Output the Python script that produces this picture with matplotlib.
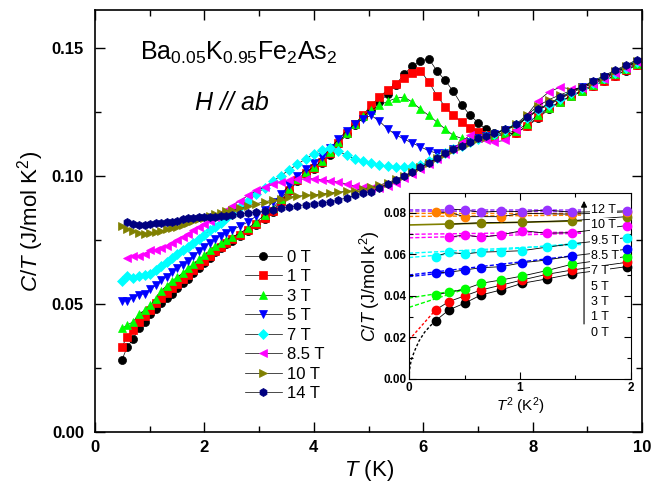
import numpy as np
import matplotlib
matplotlib.use('Agg')
import matplotlib.pyplot as plt
from matplotlib.ticker import MultipleLocator, FormatStrFormatter

plt.rcParams['font.family'] = ['Liberation Sans', 'DejaVu Sans']
plt.rcParams['mathtext.fontset'] = 'custom'
plt.rcParams['mathtext.rm'] = 'Liberation Sans'
plt.rcParams['mathtext.it'] = 'Liberation Sans:italic'
plt.rcParams['mathtext.bf'] = 'Liberation Sans:bold'
plt.rcParams['mathtext.default'] = 'regular'

nan = np.nan

# ---- main panel: C/T vs T for H // ab ----
temps = [0.49, 0.59, 0.70, 0.80, 0.91, 1.01, 1.11, 1.21, 1.31, 1.40,
         1.50, 1.60, 1.70, 1.80, 1.90, 2.00, 2.10, 2.20, 2.30, 2.40,
         2.50, 2.65, 2.80, 2.95, 3.10, 3.25, 3.40, 3.55, 3.70, 3.85,
         4.00, 4.15, 4.30, 4.45, 4.60, 4.75, 4.90, 5.05, 5.20, 5.35,
         5.50, 5.65, 5.80, 5.95, 6.10, 6.25, 6.40, 6.55, 6.70, 6.85,
         7.00, 7.15, 7.30, 7.50, 7.70, 7.90, 8.10, 8.30, 8.50, 8.70,
         8.90, 9.10, 9.30, 9.50, 9.70, 9.90]

ct_0T = [0.0281, 0.0333, 0.0365, 0.0405, 0.0429, 0.0461, 0.0482, 0.0506, 0.0524, 0.0541,
         0.0562, 0.0582, 0.0600, 0.0620, 0.0640, 0.0660, 0.0682, 0.0702, 0.0720, 0.0735,
         0.0748, 0.0765, 0.0785, 0.0808, 0.0833, 0.0862, 0.0900, 0.0942, 0.0980, 0.1008,
         0.1030, 0.1050, 0.1085, 0.1125, 0.1165, 0.1200, 0.1230, 0.1258, 0.1290, 0.1322,
         0.1358, 0.1400, 0.1430, 0.1450, 0.1460, 0.1412, 0.1375, 0.1332, 0.1280, 0.1240,
         0.1210, 0.1183, 0.1168, 0.1165, 0.1170, 0.1195, 0.1228, 0.1262, 0.1290, 0.1312,
         0.1332, 0.1352, 0.1372, 0.1392, 0.1412, 0.1435]

ct_1T = [0.0333, 0.0373, 0.0400, 0.0429, 0.0452, 0.0477, 0.0504, 0.0525, 0.0545, 0.0562,
         0.0580, 0.0598, 0.0615, 0.0633, 0.0652, 0.0670, 0.0690, 0.0708, 0.0725, 0.0740,
         0.0753, 0.0770, 0.0790, 0.0813, 0.0838, 0.0866, 0.0905, 0.0946, 0.0984, 0.1012,
         0.1033, 0.1054, 0.1090, 0.1130, 0.1170, 0.1205, 0.1240, 0.1278, 0.1310, 0.1338,
         0.1362, 0.1385, 0.1405, 0.1412, 0.1370, 0.1315, 0.1272, 0.1238, 0.1212, 0.1190,
         0.1172, 0.1160, 0.1158, 0.1162, 0.1170, 0.1198, 0.1233, 0.1265, 0.1290, 0.1312,
         0.1333, 0.1353, 0.1373, 0.1394, 0.1414, 0.1436]

ct_3T = [0.0405, 0.0418, 0.0432, 0.0461, 0.0477, 0.0496, 0.0522, 0.0553, 0.0572, 0.0590,
         0.0605, 0.0622, 0.0640, 0.0657, 0.0675, 0.0692, 0.0710, 0.0726, 0.0740, 0.0752,
         0.0762, 0.0778, 0.0798, 0.0822, 0.0848, 0.0875, 0.0912, 0.0952, 0.0988, 0.1015,
         0.1037, 0.1060, 0.1095, 0.1133, 0.1170, 0.1205, 0.1235, 0.1258, 0.1278, 0.1293,
         0.1305, 0.1310, 0.1290, 0.1262, 0.1238, 0.1212, 0.1185, 0.1160, 0.1148, 0.1145,
         0.1150, 0.1155, 0.1160, 0.1168, 0.1178, 0.1205, 0.1240, 0.1268, 0.1292, 0.1315,
         0.1335, 0.1358, 0.1380, 0.1400, 0.1420, 0.1440]

ct_5T = [0.0512, 0.0514, 0.0525, 0.0536, 0.0541, 0.0560, 0.0573, 0.0593, 0.0608, 0.0625,
         0.0640, 0.0655, 0.0670, 0.0688, 0.0706, 0.0725, 0.0740, 0.0755, 0.0768, 0.0780,
         0.0790, 0.0805, 0.0822, 0.0845, 0.0870, 0.0898, 0.0930, 0.0965, 0.1000, 0.1028,
         0.1050, 0.1075, 0.1110, 0.1145, 0.1178, 0.1205, 0.1225, 0.1238, 0.1215, 0.1185,
         0.1162, 0.1145, 0.1130, 0.1115, 0.1100, 0.1090, 0.1090, 0.1105, 0.1120, 0.1135,
         0.1148, 0.1158, 0.1166, 0.1180, 0.1198, 0.1228, 0.1260, 0.1282, 0.1305, 0.1328,
         0.1348, 0.1368, 0.1388, 0.1408, 0.1428, 0.1448]

ct_7T = [0.0590, 0.0611, 0.0602, 0.0611, 0.0614, 0.0618, 0.0635, 0.0651, 0.0666, 0.0681,
         0.0695, 0.0710, 0.0725, 0.0740, 0.0756, 0.0772, 0.0788, 0.0802, 0.0818, 0.0835,
         0.0852, 0.0878, 0.0903, 0.0930, 0.0956, 0.0980, 0.1003, 0.1025, 0.1047, 0.1068,
         0.1088, 0.1102, 0.1112, 0.1098, 0.1082, 0.1068, 0.1058, 0.1050, 0.1045, 0.1040,
         0.1037, 0.1038, 0.1040, 0.1045, 0.1058, 0.1072, 0.1090, 0.1105, 0.1120, 0.1134,
         0.1146, 0.1157, 0.1166, 0.1182, 0.1200, 0.1228, 0.1258, 0.1280, 0.1302, 0.1325,
         0.1345, 0.1365, 0.1385, 0.1405, 0.1425, 0.1445]

ct_85T = [nan, 0.0680, 0.0690, 0.0688, 0.0697, 0.0710, 0.0712, 0.0718, 0.0728, 0.0739,
          0.0750, 0.0762, 0.0775, 0.0788, 0.0800, 0.0812, 0.0826, 0.0841, 0.0856, 0.0870,
          0.0885, 0.0905, 0.0925, 0.0945, 0.0958, 0.0968, 0.0978, 0.0984, 0.0988, 0.0990,
          0.0990, 0.0987, 0.0982, 0.0977, 0.0970, 0.0962, 0.0957, 0.0955, 0.0956, 0.0962,
          0.0975, 0.0992, 0.1010, 0.1028, 0.1048, 0.1068, 0.1088, 0.1108, 0.1135, 0.1160,
          0.1150, 0.1140, 0.1135, 0.1140, 0.1180, 0.1240, 0.1295, 0.1330, 0.1348, 0.1342,
          0.1345, 0.1362, 0.1382, 0.1405, 0.1425, 0.1448]

ct_10T = [0.0805, 0.0795, 0.0785, 0.0778, 0.0776, 0.0778, 0.0782, 0.0787, 0.0792, 0.0797,
          0.0803, 0.0810, 0.0817, 0.0824, 0.0831, 0.0838, 0.0845, 0.0852, 0.0858, 0.0863,
          0.0867, 0.0875, 0.0884, 0.0893, 0.0900, 0.0907, 0.0913, 0.0918, 0.0922, 0.0925,
          0.0928, 0.0931, 0.0935, 0.0938, 0.0941, 0.0944, 0.0950, 0.0958, 0.0966, 0.0975,
          0.0988, 0.1002, 0.1018, 0.1035, 0.1053, 0.1070, 0.1088, 0.1103, 0.1118, 0.1132,
          0.1145, 0.1155, 0.1165, 0.1182, 0.1205, 0.1240, 0.1275, 0.1300, 0.1318, 0.1335,
          0.1350, 0.1368, 0.1388, 0.1410, 0.1430, 0.1450]

ct_14T = [nan, 0.0822, 0.0815, 0.0809, 0.0811, 0.0814, 0.0816, 0.0818, 0.0821, 0.0823,
          0.0827, 0.0831, 0.0835, 0.0838, 0.0840, 0.0841, 0.0842, 0.0842, 0.0843, 0.0845,
          0.0848, 0.0852, 0.0856, 0.0860, 0.0865, 0.0870, 0.0875, 0.0880, 0.0884, 0.0889,
          0.0893, 0.0896, 0.0899, 0.0908, 0.0915, 0.0925, 0.0933, 0.0940, 0.0955, 0.0970,
          0.0985, 0.1000, 0.1017, 0.1035, 0.1052, 0.1070, 0.1090, 0.1105, 0.1120, 0.1135,
          0.1148, 0.1158, 0.1168, 0.1185, 0.1203, 0.1232, 0.1262, 0.1285, 0.1308, 0.1330,
          0.1350, 0.1372, 0.1393, 0.1414, 0.1434, 0.1455]

field_labels = ['0 T', '1 T', '3 T', '5 T', '7 T', '8.5 T', '10 T', '14 T']
main_series = [ct_0T, ct_1T, ct_3T, ct_5T, ct_7T, ct_85T, ct_10T, ct_14T]
main_colors = ['black', 'red', '#00ff00', 'blue', 'cyan', 'magenta', '#808000', '#000080']
main_markers = ['o', 's', '^', 'v', 'D', '<', '>', 'h']

# ---- inset: C/T vs T^2 at low temperature ----
inset_t2 = [0.24, 0.36, 0.50, 0.65, 0.83, 1.02, 1.24, 1.47, 1.96]
in_0T = [0.0281, 0.0333, 0.0365, 0.0405, 0.0429, 0.0461, 0.0482, 0.0506, 0.0541]
in_1T = [0.0333, 0.0373, 0.0400, 0.0429, 0.0452, 0.0477, 0.0504, 0.0525, 0.0562]
in_3T = [0.0405, 0.0418, 0.0432, 0.0461, 0.0477, 0.0496, 0.0522, 0.0553, 0.0590]
in_5T = [0.0512, 0.0514, 0.0525, 0.0536, 0.0541, 0.0560, 0.0573, 0.0593, 0.0625]
in_7T = [0.0590, 0.0611, 0.0602, 0.0611, 0.0614, 0.0618, 0.0635, 0.0651, 0.0681]
in_85T = [nan, 0.0683, 0.0694, 0.0683, 0.0694, 0.0715, 0.0702, 0.0705, 0.0739]
in_95T = [nan, 0.0745, nan, 0.0753, nan, 0.0755, nan, 0.0763, 0.0782]
in_10T = [0.0803, 0.0803, 0.0782, nan, 0.0782, 0.0798, nan, 0.0794, 0.0805]
in_12T = [nan, 0.0819, 0.0814, 0.0803, 0.0809, 0.0806, 0.0814, 0.0803, 0.0810]
inset_series = [in_0T, in_1T, in_3T, in_5T, in_7T, in_85T, in_95T, in_10T, in_12T]
inset_colors = ['black', 'red', '#00ff00', 'blue', 'cyan', 'magenta', '#808000', '#ff8000', '#9933ff']

# extrapolation fits to T -> 0 (x pair, y pair)
fits_1T = [([0.0, 0.24], [0.0188, 0.0333])]
fits_3T = [([0.0, 0.50], [0.0390, 0.0432]), ([0.0, 0.50], [0.0345, 0.0432])]
fits_5T = [([0.0, 1.47], [0.0501, 0.0593]), ([0.0, 0.36], [0.0493, 0.0514])]
fits_7T = [([0.0, 1.55], [0.0606, 0.0648]), ([0.0, 1.55], [0.0585, 0.0655])]
fits_85T = [([0.0, 1.55], [0.0697, 0.0708]), ([0.0, 1.55], [0.0680, 0.0702])]
fits_10T = [([0.0, 1.55], [0.0798, 0.0797]), ([0.0, 1.55], [0.0783, 0.0789])]
fits_12T = [([0.0, 1.55], [0.0815, 0.0814]), ([0.0, 1.55], [0.0809, 0.0806])]
fit_95T_x = [0.0, 1.55]
fit_95T_y = [0.0742, 0.0762]
fit_0T_x = [0.0, 0.005, 0.02, 0.05, 0.09, 0.14, 0.19, 0.24]
fit_0T_y = [0.0, 0.0045, 0.0092, 0.0135, 0.0183, 0.0225, 0.0255, 0.0281]

inset_labels = ['12 T', '10 T', '9.5 T', '8.5 T', '7 T', '5 T', '3 T', '1 T', '0 T']


fig = plt.figure(figsize=(6.54, 4.87), dpi=100)
ax = fig.add_axes([0.1453, 0.1129, 0.8364, 0.8665])

for vals, col, mk, lab in zip(main_series, main_colors, main_markers, field_labels):
    ax.plot(temps, vals, color='k', lw=0.5, marker=mk, ms=5.8 if mk != 'D' else 5.0,
            mfc=col, mec=col, mew=0.5, label=lab)

ax.set_xlim(0, 10)
ax.set_ylim(0, 0.165)
ax.xaxis.set_major_locator(MultipleLocator(2))
ax.xaxis.set_minor_locator(MultipleLocator(1))
ax.yaxis.set_major_locator(MultipleLocator(0.05))
ax.yaxis.set_minor_locator(MultipleLocator(0.025))
ax.xaxis.set_major_formatter(FormatStrFormatter('%d'))
ax.yaxis.set_major_formatter(FormatStrFormatter('%.2f'))
ax.tick_params(which='both', direction='in', top=True, right=True, width=1)
ax.tick_params(which='major', length=7, labelsize=12, pad=6)
ax.tick_params(which='minor', length=4)
ax.tick_params(axis='y', which='major', pad=8)
for lbl in ax.get_xticklabels() + ax.get_yticklabels():
    lbl.set_fontweight('bold')
for sp in ax.spines.values():
    sp.set_linewidth(1.2)

ax.set_xlabel(r'$\mathit{T}$ (K)', fontsize=16, labelpad=2)
ax.set_ylabel(r'$\mathit{C/T}$ (J/mol K$^2$)', fontsize=16, labelpad=4)

ax.text(0.082, 0.882, r'Ba$_{0.05}$K$_{0.95}$Fe$_2$As$_2$', transform=ax.transAxes,
        fontsize=18, va='baseline', ha='left')
ax.text(0.183, 0.763, 'H // ab', transform=ax.transAxes, fontsize=18,
        style='italic', va='baseline', ha='left')

ax.legend(loc='upper left', bbox_to_anchor=(0.274, 0.432), frameon=False,
          fontsize=12, numpoints=1, handlelength=2.2, handletextpad=0.3,
          labelspacing=0.27, borderpad=0, borderaxespad=0)

# inset
ins = fig.add_axes([0.6254, 0.2218, 0.3394, 0.3819])
ins.set_facecolor('white')

dash = (0, (3, 1.5))
dot = (0, (2, 1.5))
ins.plot(fit_0T_x, fit_0T_y, ls=dot, color='black', lw=1, zorder=1)
for fits, col in zip([fits_1T, fits_3T, fits_5T, fits_7T, fits_85T, fits_10T, fits_12T],
                     ['red', '#00ff00', 'blue', 'cyan', 'magenta', '#ff8000', '#9933ff']):
    for fx, fy in fits:
        ins.plot(fx, fy, ls=dot if col == 'red' else dash, color=col, lw=1, zorder=1)
ins.plot(fit_95T_x, fit_95T_y, '-', color='#808000', lw=1.2, zorder=1)

t2 = np.array(inset_t2)
for vals, col in zip(inset_series, inset_colors):
    v = np.array(vals)
    ok = ~np.isnan(v)
    ins.plot(t2[ok], v[ok], '-', color='k', lw=0.6, zorder=2)
    ins.plot(t2[ok], v[ok], 'o', color=col, ms=6, zorder=3, clip_on=False)

for i, lab in enumerate(inset_labels):
    ins.text(1.64, 0.0815 - i * 0.0074, lab, fontsize=9, va='center', ha='left',
             bbox=dict(fc='white', ec='none', pad=0.5), zorder=4)
ins.annotate('', xy=(1.577, 0.0858), xytext=(1.577, 0.0265),
             arrowprops=dict(arrowstyle='-|>', color='k', lw=0.8,
                             mutation_scale=9, shrinkA=0, shrinkB=0), zorder=5)

ins.set_xlim(0, 2)
ins.set_ylim(0, 0.0896)
ins.xaxis.set_major_locator(MultipleLocator(1))
ins.xaxis.set_minor_locator(MultipleLocator(0.5))
ins.yaxis.set_major_locator(MultipleLocator(0.02))
ins.yaxis.set_minor_locator(MultipleLocator(0.01))
ins.xaxis.set_major_formatter(FormatStrFormatter('%d'))
ins.yaxis.set_major_formatter(FormatStrFormatter('%.2f'))
ins.tick_params(which='both', direction='in', top=True, right=True, width=0.8)
ins.tick_params(which='major', length=5, labelsize=8.5, pad=2)
ins.tick_params(which='minor', length=3)
for lbl in ins.get_xticklabels() + ins.get_yticklabels():
    lbl.set_fontweight('bold')
ins.set_xlabel(r'$\mathit{T}^2$ (K$^2$)', fontsize=11, labelpad=1)
ins.set_ylabel(r'$\mathit{C/T}$ (J/mol k$^2$)', fontsize=13, labelpad=1)

fig.savefig('out.png', dpi=100)
